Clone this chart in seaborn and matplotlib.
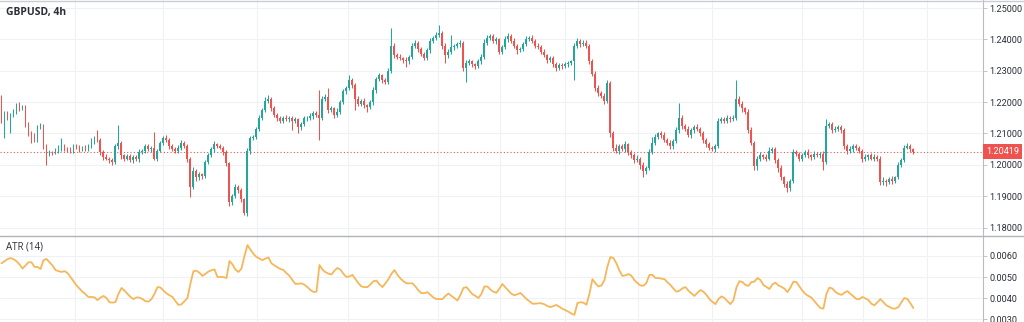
import numpy as np
import pandas as pd
import matplotlib
matplotlib.use("Agg")
import matplotlib.pyplot as plt
import matplotlib.transforms as mtransforms
from matplotlib.lines import Line2D
import seaborn as sns

# ---------------- data (prices in pips relative to 1.2000) ----------------
symbol_title = "GBPUSD, 4h"
indicator_title = "ATR (14)"
base_price = 1.2
pip = 0.0001
first_open_pips = 152

close_pips = [
    140, 165, 150, 160, 170, 190, 180, 185, 130, 101,
    95, 80, 120, 125, 60, 35, 40, 38, 45, 50,
    62, 52, 50, 45, 60, 55, 50, 55, 50, 60,
    75, 85, 80, 40, 25, 20, 15, 10, 60, 70,
    30, 20, 28, 15, 25, 18, 40, 45, 60, 50,
    55, 20, 45, 70, 85, 80, 60, 50, 45, 55,
    70, 60, 20, -70, -20, -40, -30, -35, 10, 30,
    50, 65, 60, 55, 40, 5, -120, -100, -70, -80,
    -110, -155, 45, 85, 90, 115, 150, 175, 205, 210,
    180, 160, 150, 140, 150, 145, 150, 140, 145, 120,
    130, 150, 150, 155, 165, 160, 150, 210, 215, 175,
    180, 160, 170, 200, 235, 245, 270, 255, 210, 195,
    205, 190, 185, 200, 240, 275, 285, 270, 265, 300,
    380, 350, 345, 340, 335, 330, 345, 380, 390, 370,
    355, 340, 365, 395, 405, 415, 420, 380, 350, 360,
    375, 380, 385, 390, 310, 325, 330, 320, 315, 330,
    345, 390, 405, 410, 395, 400, 360, 375, 400, 412,
    395, 380, 365, 370, 385, 400, 405, 395, 380, 375,
    360, 350, 335, 340, 320, 310, 318, 315, 320, 325,
    330, 380, 395, 385, 390, 380, 330, 290, 245, 230,
    220, 205, 260, 100, 55, 45, 60, 50, 65, 40,
    30, 15, 20, 0, -20, -10, 40, 70, 90, 100,
    95, 80, 70, 60, 75, 110, 150, 125, 115, 95,
    110, 120, 115, 100, 80, 65, 55, 50, 60, 140,
    145, 140, 150, 145, 150, 210, 195, 180, 170, 110,
    70, -5, 20, 30, 25, 20, 45, 50, 15, -10,
    -40, -60, -75, -50, 40, 35, 20, 30, 40, 30,
    25, 35, 30, 35, 10, 125, 130, 110, 115, 120,
    110, 60, 45, 50, 60, 55, 45, 20, 25, 30,
    20, 25, 20, -55, -50, -55, -45, -50, -40, 0,
    15, 55, 60, 50, 41.9,
]

upper_wick_pips = [
    70, 8, 6, 5, 8, 6, 10, 5, 7, 6,
    8, 5, 6, 10, 4, 7, 6, 5, 8, 12,
    23, 6, 5, 8, 6, 5, 7, 6, 8, 6,
    10, 6, 25, 5, 6, 8, 5, 6, 7, 56,
    6, 5, 8, 6, 7, 5, 10, 6, 8, 5,
    6, 49, 7, 6, 8, 10, 5, 6, 8, 7,
    9, 6, 5, 6, 12, 8, 7, 5, 6, 8,
    7, 10, 6, 8, 5, 6, 5, 8, 10, 6,
    7, 5, 10, 8, 6, 7, 9, 6, 10, 12,
    6, 8, 5, 7, 6, 9, 5, 6, 8, 5,
    8, 6, 7, 10, 6, 8, 78, 8, 12, 29,
    8, 6, 10, 7, 8, 6, 16, 7, 6, 8,
    6, 8, 5, 7, 9, 6, 8, 6, 7, 8,
    56, 8, 6, 7, 5, 8, 6, 10, 8, 6,
    7, 5, 8, 9, 6, 8, 26, 7, 8, 10,
    39, 6, 8, 7, 6, 8, 7, 5, 6, 8,
    7, 10, 8, 6, 7, 9, 6, 8, 10, 7,
    6, 8, 5, 7, 8, 10, 6, 8, 5, 7,
    6, 8, 5, 7, 6, 8, 7, 6, 8, 6,
    5, 10, 8, 6, 7, 8, 6, 7, 8, 10,
    6, 8, 12, 7, 8, 10, 6, 8, 12, 6,
    8, 7, 10, 6, 8, 7, 10, 20, 8, 6,
    7, 9, 6, 8, 7, 10, 46, 8, 6, 10,
    8, 7, 10, 6, 8, 5, 7, 6, 8, 10,
    8, 6, 10, 7, 8, 60, 10, 8, 6, 8,
    10, 7, 8, 10, 6, 8, 12, 8, 6, 7,
    8, 6, 7, 5, 12, 8, 6, 8, 7, 10,
    6, 8, 7, 6, 8, 20, 8, 6, 10, 8,
    7, 8, 6, 10, 7, 8, 6, 7, 8, 6,
    7, 8, 6, 8, 10, 6, 7, 8, 6, 10,
    8, 7, 10, 6, 5,
]

lower_wick_pips = [
    6, 55, 8, 49, 6, 7, 8, 5, 10, 8,
    26, 8, 6, 7, 10, 37, 8, 6, 5, 7,
    6, 8, 10, 6, 7, 5, 8, 6, 7, 5,
    6, 8, 7, 8, 10, 6, 8, 12, 6, 8,
    10, 8, 6, 7, 9, 6, 8, 5, 7, 6,
    8, 6, 7, 5, 8, 6, 10, 7, 6, 8,
    7, 6, 10, 34, 8, 12, 7, 9, 6, 8,
    6, 8, 7, 6, 10, 8, 10, 8, 6, 10,
    8, 5, 8, 10, 6, 8, 7, 6, 8, 7,
    8, 6, 10, 7, 8, 6, 8, 30, 6, 19,
    8, 6, 10, 7, 8, 6, 72, 8, 7, 10,
    8, 11, 7, 8, 6, 8, 7, 10, 36, 8,
    7, 8, 17, 6, 8, 10, 7, 8, 6, 8,
    7, 10, 8, 7, 9, 19, 7, 6, 8, 10,
    8, 7, 6, 8, 5, 7, 6, 10, 26, 8,
    7, 8, 6, 8, 10, 46, 8, 7, 10, 6,
    8, 6, 7, 8, 6, 10, 8, 7, 6, 8,
    7, 8, 10, 6, 8, 7, 6, 8, 9, 7,
    8, 7, 10, 8, 7, 12, 8, 10, 7, 8,
    6, 60, 7, 8, 6, 7, 10, 8, 10, 12,
    8, 10, 7, 10, 12, 8, 10, 7, 8, 10,
    8, 10, 7, 12, 20, 8, 7, 6, 8, 7,
    8, 6, 7, 10, 8, 6, 7, 10, 8, 7,
    8, 7, 6, 8, 10, 7, 8, 6, 10, 7,
    6, 8, 7, 8, 6, 7, 8, 10, 7, 10,
    8, 12, 10, 8, 7, 8, 6, 8, 10, 12,
    8, 10, 13, 8, 7, 6, 8, 7, 6, 8,
    10, 7, 6, 8, 28, 8, 7, 10, 6, 8,
    7, 8, 10, 6, 8, 7, 6, 10, 7, 8,
    6, 8, 7, 10, 8, 12, 7, 10, 8, 6,
    8, 7, 6, 8, 7,
]

atr_pips = [
    56.5, 57.5, 58.5, 59, 58.5, 57.5, 56, 54, 55.5, 57,
    57, 54.8, 54.8, 53.8, 58, 58.6, 57, 55.5, 53.3, 52.8,
    52.4, 52.8, 51.9, 50, 48, 46, 44.5, 43, 41.8, 40.5,
    40.5, 40.3, 39, 40.2, 41, 40, 38, 37.8, 38.1, 42,
    44.8, 43.5, 42, 40.5, 39.5, 40.3, 40.2, 39.5, 38.5, 38.3,
    39.5, 42, 45.2, 45, 43.5, 42.2, 41.3, 40.5, 38.5, 36.7,
    37, 38.5, 40, 47, 52.8, 53, 52, 50.5, 51.5, 52.6,
    53.2, 53.6, 50, 50, 50, 49.5, 57.6, 56, 53.5, 52.4,
    54, 60, 65.2, 63, 61, 59.5, 58.8, 58, 58.8, 59.3,
    56.5, 55.5, 54.6, 53.8, 53.3, 51.8, 50.5, 48.5, 46.7, 46.8,
    47, 46.3, 45.2, 43.8, 42.9, 43, 55.7, 53.5, 52.3, 51.6,
    51.2, 53, 54.3, 53.5, 51.5, 50, 50.3, 51, 49, 47,
    45.5, 45.2, 45.2, 46.5, 48, 48.3, 46.5, 45.2, 47, 49,
    51.5, 53.3, 51, 49.3, 48, 47, 47, 47, 45.5, 43.6,
    42.3, 42.3, 42.8, 41.5, 40.2, 39.5, 39.5, 39.5, 41, 42.2,
    41, 40, 38.8, 41.5, 44.8, 45.2, 43.5, 41.8, 41, 40,
    42, 45.5, 45.5, 44, 43, 42.5, 44.5, 46.7, 45, 43.5,
    42, 41.3, 41.8, 42.4, 41, 39.5, 38.5, 37.3, 37.3, 37.5,
    37.5, 37, 36.2, 35.7, 36.2, 36.7, 35.8, 34.9, 34.2, 33.5,
    32.6, 32, 37.6, 38, 37.8, 36.8, 42, 49, 47, 45.5,
    46, 48.5, 55, 59.5, 59, 56.5, 53, 50.5, 50.8, 51.4,
    50.6, 48.5, 47.1, 46, 45.8, 47.2, 51, 51, 49.5, 49.5,
    49.2, 49, 47.5, 46.2, 44.5, 43, 43.5, 44.6, 45.2, 43.5,
    42.2, 41, 42.5, 43.8, 43, 41.5, 39.5, 38.2, 37.1, 39.5,
    40.8, 40, 38.5, 37.1, 39, 45, 48, 47.6, 46.2, 45.8,
    47.6, 47.8, 49.5, 48.6, 46.2, 45.3, 44.3, 46.5, 47.3, 46,
    45.3, 44.5, 42.8, 45, 47.8, 47.6, 45.5, 43.5, 41.9, 41,
    40.2, 38.5, 36.8, 35.2, 35, 42, 45, 44.5, 42.9, 42,
    41.5, 42.5, 43.3, 42, 40.8, 39.5, 39.5, 40.5, 39.8, 39,
    37.3, 36.5, 38, 39.5, 38, 36.5, 35.8, 35, 35, 35.7,
    38, 40, 39.5, 37.5, 35.2,
]

price_ticks = [1.18, 1.19, 1.20, 1.21, 1.22, 1.23, 1.24, 1.25]
atr_ticks = [0.0030, 0.0040, 0.0050, 0.0060]
last_price_label = "1.20419"

# ---------------- build table ----------------
n = len(close_pips)
close = base_price + np.array(close_pips, dtype=float) * pip
open_ = np.concatenate([[base_price + first_open_pips * pip], close[:-1]])
high = np.maximum(open_, close) + np.array(upper_wick_pips, dtype=float) * pip
low = np.minimum(open_, close) - np.array(lower_wick_pips, dtype=float) * pip
df = pd.DataFrame({"i": np.arange(n), "open": open_, "high": high, "low": low,
                   "close": close, "atr": np.array(atr_pips) * pip})

# ---------------- style ----------------
sns.set_theme(style="white")
plt.rcParams["font.family"] = ["Open Sans", "DejaVu Sans"]

GREEN = "#26a69a"
RED = "#ef5350"
GRID = "#f0f1f4"
AXIS = "#b9bcc3"
TEXT = "#2a2e39"
ATR_COLOR = "#f6b75a"
TICK_FONT = ["Roboto", "DejaVu Sans"]

W, H = 1024, 322
fig = plt.figure(figsize=(W / 100, H / 100), dpi=100)
right_px = 983
sep_px = 235.5
ax = fig.add_axes([0, 1 - sep_px / H, right_px / W, sep_px / H])
ax2 = fig.add_axes([0, 0, right_px / W, (H - sep_px - 0.5) / H])

xlim = (-0.5, 327.2)
vgrid = [24.5, 53.8, 85.2, 115.5, 145.5, 166.2, 187.8, 212.2, 236.8, 266.8, 287.2, 308.5]

for a in (ax, ax2):
    a.set_xlim(*xlim)
    a.set_xticks([])
    for s in ("left", "top", "bottom"):
        a.spines[s].set_visible(False)
    a.spines["right"].set_color(AXIS)
    a.spines["right"].set_linewidth(0.8)
    a.yaxis.tick_right()
    a.tick_params(axis="y", length=3, width=0.6, color=AXIS, labelsize=6.6,
                  labelcolor=TEXT, pad=1.5)
    for g in vgrid:
        a.axvline(g, color=GRID, lw=0.8, zorder=0)

# ---------------- candles ----------------
ax.set_ylim(1.17747, 1.25256)
for t in price_ticks:
    ax.axhline(t, color=GRID, lw=0.8, zorder=0)
ax.set_yticks(price_ticks)
ax.set_yticklabels([f"{t:.5f}" for t in price_ticks], family=TICK_FONT)

colors = np.where(df["close"] >= df["open"], GREEN, RED)
ax.vlines(df["i"], df["low"], df["high"], colors=colors, linewidth=0.75, zorder=2)
body = (df["close"] - df["open"]).abs().clip(lower=0.00004)
ax.bar(df["i"], body, bottom=np.minimum(df["open"], df["close"]), width=0.66,
       color=colors, linewidth=0, zorder=3)

last = df["close"].iloc[-1]
ax.axhline(last, color=RED, lw=0.8, linestyle=(0, (1, 2)), zorder=1)
trans = mtransforms.blended_transform_factory(ax.transAxes, ax.transData)
ax.text(1.0 + 3 / right_px, last, last_price_label, transform=trans, ha="left",
        va="center", fontsize=6.6, family=TICK_FONT, color="white", clip_on=False,
        bbox=dict(boxstyle="square,pad=0.3", fc=RED, ec="none"), zorder=10)

ax.text(6 / right_px, 1 - 12 / sep_px, symbol_title, transform=ax.transAxes,
        fontsize=7.5, fontweight="bold", color=TEXT, va="center", ha="left")

# ---------------- ATR ----------------
ax2.set_ylim(0.00286, 0.00695)
for t in atr_ticks:
    ax2.axhline(t, color=GRID, lw=0.8, zorder=0)
sns.lineplot(data=df, x="i", y="atr", ax=ax2, color=ATR_COLOR, linewidth=1.3, zorder=3)
ax2.set_xlim(*xlim)
ax2.set_xlabel("")
ax2.set_ylabel("")
ax2.set_xticks([])
ax2.set_yticks(atr_ticks)
ax2.set_yticklabels([f"{t:.4f}" for t in atr_ticks], family=TICK_FONT)
ax2.text(6 / right_px, (H - 247) / (H - sep_px - 0.5), indicator_title,
         transform=ax2.transAxes, fontsize=7, color=TEXT, va="center", ha="left")

# panel borders
fig.add_artist(Line2D([0, 1], [1 - 0.7 / H, 1 - 0.7 / H], transform=fig.transFigure,
                      color="#c9ccd2", lw=1.0))
fig.add_artist(Line2D([0, 1], [1 - sep_px / H, 1 - sep_px / H], transform=fig.transFigure,
                      color="#b0b3ba", lw=1.0))

fig.savefig("out.png", dpi=100, facecolor="white")
